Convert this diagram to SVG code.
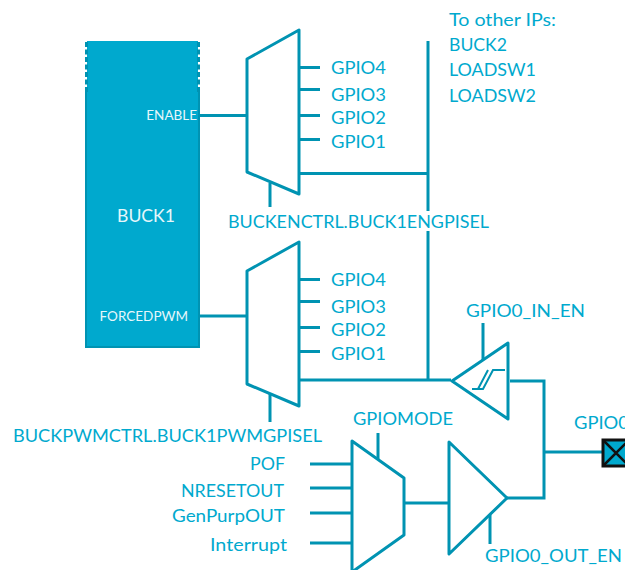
<svg xmlns="http://www.w3.org/2000/svg" width="625" height="570" viewBox="0 0 625 570">
<style>
text{font-family:"Lato","Liberation Sans",sans-serif;font-size:18px;fill:#00A9CE}
.w{fill:#E6F7FB;font-size:13.500px}
.l{fill:none;stroke:#0093B2;stroke-width:3;stroke-linejoin:round}
.t{stroke:#0093B2;stroke-width:3;fill:none}
</style>
<rect width="625" height="570" fill="#fff"/>
<g id="buck1">
<rect x="87" y="41" width="111" height="306" fill="#00A9CE"/>
<path d="M86 92V347H199V92" fill="none" stroke="#0093B2" stroke-width="2"/>
<path d="M86.500 42V92M198.500 42V92" fill="none" stroke="#0093B2" stroke-width="3" stroke-dasharray="5 2.500"/>
<text x="146" y="222" text-anchor="middle" style="fill:#E6F7FB;font-size:18px" textLength="58" lengthAdjust="spacingAndGlyphs">BUCK1</text>
<text class="w" x="197" y="120" text-anchor="end">ENABLE</text>
<text class="w" x="188" y="321" text-anchor="end">FORCEDPWM</text>
</g>
<g id="connectors">
<path class="t" d="M200 115.500H247M200 316H247M270 183V207M270 394V422M299 67.500H320M299 89.500H320M299 115.500H320M299 139.500H320M299 173.500H428M428 41V211M428 231V380M299 279.500H320M299 301.500H320M299 327.500H320M299 351.500H320M299 380H451M483 323V360M510 381H544V498H507M544 452H602M310 464H352M310 488H352M310 513H352M310 543H352M378 433V460M404 503H449M490 515V544"/>
</g>
<g id="mux-enable"><path class="l" d="M247 59L299 30V194L247 172Z"/>
<text x="331" y="74" textLength="55" lengthAdjust="spacingAndGlyphs">GPIO4</text><text x="331" y="101" textLength="55" lengthAdjust="spacingAndGlyphs">GPIO3</text><text x="331" y="124" textLength="55" lengthAdjust="spacingAndGlyphs">GPIO2</text><text x="331" y="148" textLength="55" lengthAdjust="spacingAndGlyphs">GPIO1</text>
<text x="228" y="228" textLength="261" lengthAdjust="spacingAndGlyphs">BUCKENCTRL.BUCK1ENGPISEL</text></g>
<g id="mux-pwm"><path class="l" d="M247 271L299 242V406L247 384Z"/>
<text x="331" y="286" textLength="55" lengthAdjust="spacingAndGlyphs">GPIO4</text><text x="331" y="313" textLength="55" lengthAdjust="spacingAndGlyphs">GPIO3</text><text x="331" y="336" textLength="55" lengthAdjust="spacingAndGlyphs">GPIO2</text><text x="331" y="360" textLength="55" lengthAdjust="spacingAndGlyphs">GPIO1</text>
<text x="13" y="442" textLength="309" lengthAdjust="spacingAndGlyphs">BUCKPWMCTRL.BUCK1PWMGPISEL</text></g>
<g id="other-ips"><text x="449" y="26" textLength="107" lengthAdjust="spacingAndGlyphs">To other IPs:</text><text x="449" y="51" textLength="58" lengthAdjust="spacingAndGlyphs">BUCK2</text><text x="449" y="76" textLength="87" lengthAdjust="spacingAndGlyphs">LOADSW1</text><text x="449" y="102" textLength="87" lengthAdjust="spacingAndGlyphs">LOADSW2</text></g>
<g id="in-buffer"><path class="l" d="M452 381L508 343V419Z"/>
<path d="M472 389H483L493 370H505M478 389L488 370" fill="none" stroke="#0093B2" stroke-width="2"/>
<text x="466" y="317" textLength="119" lengthAdjust="spacingAndGlyphs">GPIO0_IN_EN</text></g>
<g id="out-buffer"><path class="l" d="M449 442L507 498L449 554Z"/><text x="485" y="562" textLength="137" lengthAdjust="spacingAndGlyphs">GPIO0_OUT_EN</text></g>
<g id="mux-mode"><path class="l" d="M352 441L404 478V535L352 572Z"/>
<text x="353" y="425" textLength="100" lengthAdjust="spacingAndGlyphs">GPIOMODE</text>
<text x="250" y="470" textLength="35" lengthAdjust="spacingAndGlyphs">POF</text><text x="181" y="497" textLength="103" lengthAdjust="spacingAndGlyphs">NRESETOUT</text><text x="172" y="522" textLength="113" lengthAdjust="spacingAndGlyphs">GenPurpOUT</text><text x="210" y="551" textLength="77" lengthAdjust="spacingAndGlyphs">Interrupt</text></g>
<g id="gpio0-pad"><text x="574" y="429" textLength="55" lengthAdjust="spacingAndGlyphs">GPIO0</text>
<rect x="603" y="440" width="26" height="26" fill="#00A9CE" stroke="#111" stroke-width="3"/>
<path d="M603 440L629 466M629 440L603 466" stroke="#111" stroke-width="2.500"/></g>
</svg>
